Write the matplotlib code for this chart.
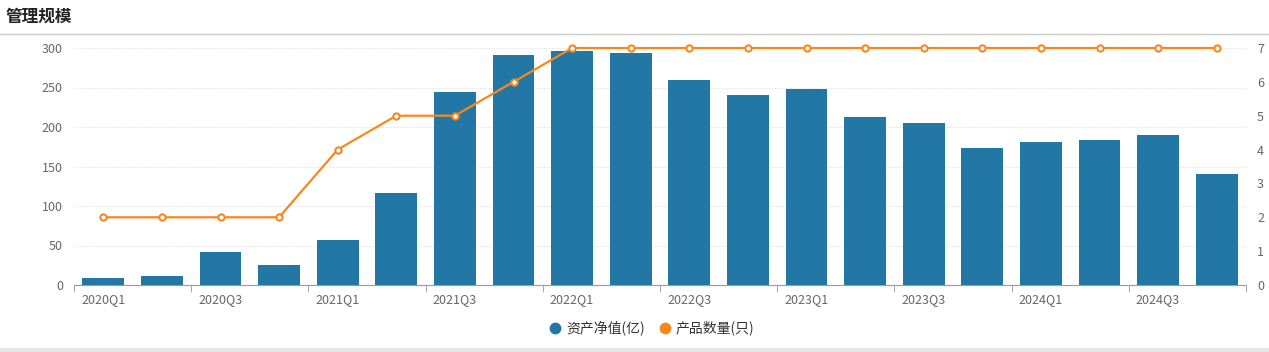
import matplotlib
matplotlib.use("Agg")
import matplotlib.pyplot as plt
from matplotlib.lines import Line2D
from matplotlib.patches import Rectangle
import numpy as np

plt.rcParams['font.family'] = ['Noto Sans CJK SC', 'DejaVu Sans']

# datos
quarters = ["2020Q1", "2020Q2", "2020Q3", "2020Q4",
            "2021Q1", "2021Q2", "2021Q3", "2021Q4",
            "2022Q1", "2022Q2", "2022Q3", "2022Q4",
            "2023Q1", "2023Q2", "2023Q3", "2023Q4",
            "2024Q1", "2024Q2", "2024Q3", "2024Q4"]
net_assets = [9, 11, 42, 25, 57, 116.5, 244, 291, 296, 293.5,
              259.5, 240.5, 248, 212.5, 205, 173.5, 181, 183.5, 190, 140.5]
product_count = [2, 2, 2, 2, 4, 5, 5, 6, 7, 7, 7, 7, 7, 7, 7, 7, 7, 7, 7, 7]

bar_color = "#2277a4"
line_color = "#f5891f"
text_color = "#666666"

W, H = 1269, 352
fig = plt.figure(figsize=(W / 100, H / 100), dpi=100)

# titulo y separadores
fig.text(6 / W, 1 - 17 / H, "管理规模", fontsize=12, fontweight="bold",
         color="#222222", va="center", ha="left")
fig.add_artist(Line2D([0, 1], [1 - 33.5 / H, 1 - 33.5 / H], color="#cccccc", lw=1))
fig.add_artist(Rectangle((0, 0), 1, 4 / H, transform=fig.transFigure,
                         color="#e6e6e6", lw=0))

ax = fig.add_axes([74 / W, 1 - 285 / H, 1172 / W, 237 / H])
x = np.arange(len(quarters))
ax.bar(x, net_assets, width=0.71, color=bar_color, zorder=2)
ax.set_xlim(-0.5, len(quarters) - 0.5)
ax.set_ylim(0, 300)
ax.set_yticks(np.arange(0, 301, 50))
ax.grid(axis="y", color="#dddddd", linestyle=(0, (1, 1.5)), lw=0.8, zorder=0)

for s in ["top", "left", "right"]:
    ax.spines[s].set_visible(False)
ax.spines["bottom"].set_color("#999999")

ax.set_xticks(x[::2])
ax.set_xticklabels(quarters[::2])
ax.set_xticks(np.arange(-0.5, len(quarters), 2), minor=True)
ax.tick_params(axis="x", which="major", length=0, pad=6, labelsize=9, labelcolor=text_color)
ax.tick_params(axis="x", which="minor", length=5, color="#999999")
ax.tick_params(axis="y", length=0, pad=8, labelsize=9, labelcolor=text_color)

ax2 = ax.twinx()
ax2.plot(x, product_count, color=line_color, lw=1.6, marker="o", markersize=4.5,
         markerfacecolor="white", markeredgecolor=line_color, markeredgewidth=1.5,
         zorder=3, clip_on=False)
ax2.set_ylim(0, 7)
ax2.set_yticks(range(8))
for s in ["top", "left", "right", "bottom"]:
    ax2.spines[s].set_visible(False)
ax2.tick_params(axis="y", length=0, pad=8, labelsize=9, labelcolor=text_color)

handles = [Line2D([], [], marker="o", ls="", color=bar_color, markersize=7.5),
           Line2D([], [], marker="o", ls="", color=line_color, markersize=7.5)]
fig.legend(handles, ["资产净值(亿)", "产品数量(只)"], loc="center",
           bbox_to_anchor=(652 / W, 1 - 328 / H), ncol=2, frameon=False,
           fontsize=10, labelcolor="#333333", handlelength=0.8,
           handletextpad=0.4, columnspacing=1.0)

fig.savefig("out.png", dpi=100)
